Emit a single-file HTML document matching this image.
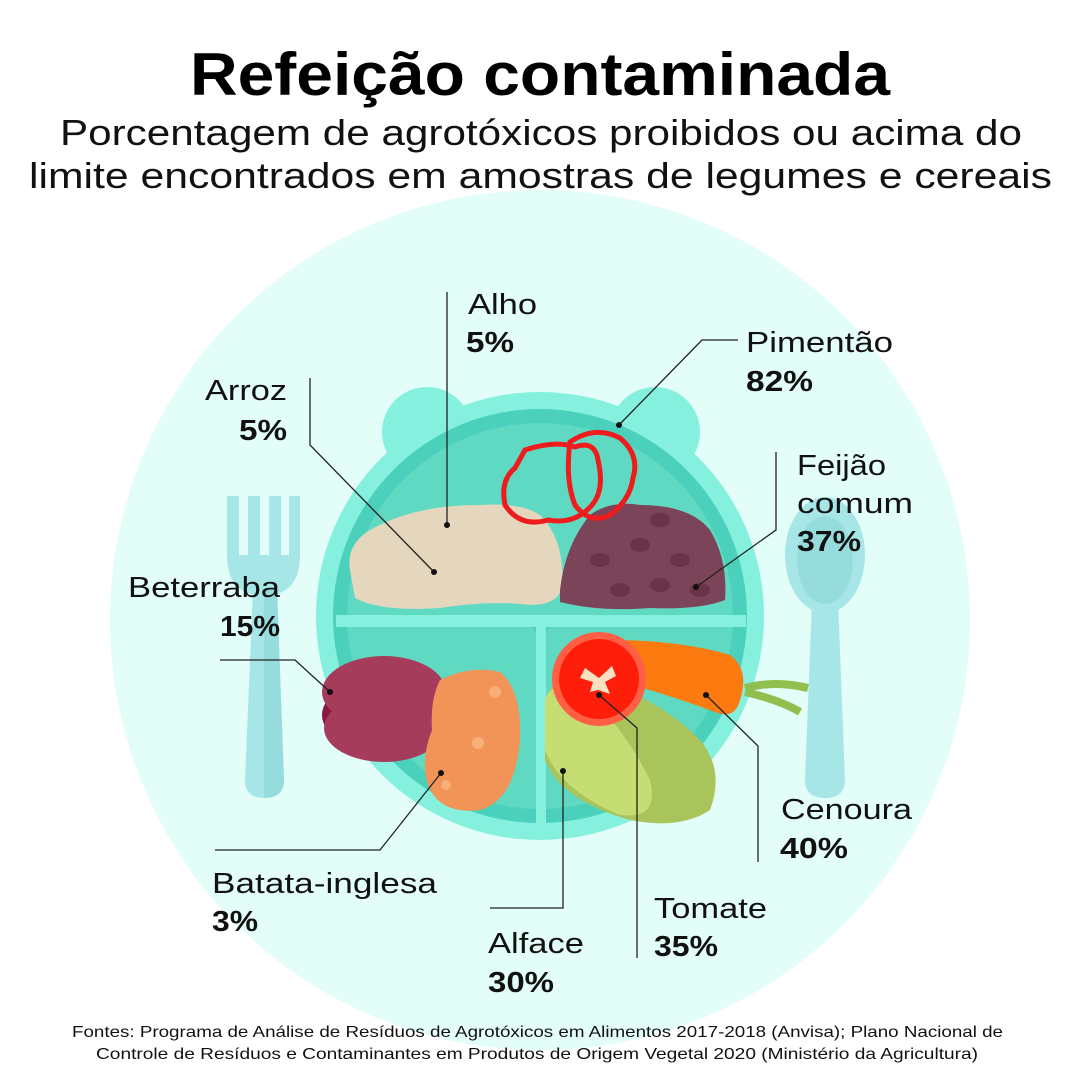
<!DOCTYPE html>
<html><head><meta charset="utf-8"><style>
body{margin:0;background:#fff;}
svg{display:block;font-family:"Liberation Sans",sans-serif;}
.l{font-size:29px;fill:#111}
.b{font-size:29px;font-weight:bold;fill:#111}
</style></head><body>
<svg width="1080" height="1080" viewBox="0 0 1080 1080">
<rect width="1080" height="1080" fill="#fff"/>
<circle cx="540" cy="620" r="430" fill="#e3fdf8"/>
<text x="190" y="95" textLength="700" lengthAdjust="spacingAndGlyphs" font-size="60" font-weight="bold" fill="#000">Refeição contaminada</text>
<text x="60" y="145" textLength="962" lengthAdjust="spacingAndGlyphs" font-size="36" fill="#111">Porcentagem de agrotóxicos proibidos ou acima do</text>
<text x="29" y="188" textLength="1023" lengthAdjust="spacingAndGlyphs" font-size="36" fill="#111">limite encontrados em amostras de legumes e cereais</text>
<!-- fork -->
<g fill="#a7e6e7">
<rect x="227" y="496" width="12" height="65"/><rect x="248" y="496" width="12" height="65"/><rect x="269" y="496" width="12" height="65"/><rect x="289" y="496" width="11" height="65"/>
<path d="M227 555 H300 Q300 595 264 596 Q227 595 227 555Z"/>
<path d="M253 590 H277 L284 780 Q284 798 264 798 Q245 798 245 780Z"/>
</g>
<path d="M264 590 H277 L284 780 Q284 798 264 798Z" fill="#97dcdd"/>
<!-- spoon -->
<g fill="#a7e6e7">
<ellipse cx="825" cy="555" rx="40" ry="58"/>
<path d="M812 600 H838 L845 780 Q845 798 825 798 Q805 798 805 780Z"/>
</g>
<ellipse cx="825" cy="560" rx="28" ry="44" fill="#97dcdd"/>
<!-- plate -->
<circle cx="427" cy="432" r="45" fill="#86f0de"/><circle cx="655" cy="432" r="45" fill="#86f0de"/>
<circle cx="540" cy="616" r="224" fill="#86f0de"/>
<circle cx="540" cy="616" r="207" fill="#4bd0bb"/>
<clipPath id="pc"><circle cx="540" cy="616" r="193"/></clipPath>
<g clip-path="url(#pc)" fill="#60d9c3">
<rect x="330" y="400" width="420" height="215" rx="8"/>
<rect x="330" y="627" width="206" height="220" rx="8"/>
<rect x="546" y="627" width="210" height="220" rx="8"/>
</g>
<rect x="336" y="615" width="410" height="12" fill="#86f0de"/>
<rect x="536" y="620" width="10" height="205" fill="#86f0de"/>
<!-- rice -->
<path d="M350 570 Q345 540 380 525 Q420 505 480 505 Q520 502 540 515 Q565 540 562 585 Q560 605 530 605 Q490 600 440 608 Q380 612 355 598Z" fill="#e5d7bd"/>
<!-- beans -->
<path d="M560 590 Q565 545 590 515 Q610 500 640 505 Q690 505 710 530 Q728 560 725 600 Q700 610 650 608 Q600 612 560 602Z" fill="#7b4459"/>
<g fill="#693448"><ellipse cx="600" cy="560" rx="10" ry="7"/><ellipse cx="640" cy="545" rx="10" ry="7"/><ellipse cx="680" cy="560" rx="10" ry="7"/><ellipse cx="620" cy="590" rx="10" ry="7"/><ellipse cx="660" cy="585" rx="10" ry="7"/><ellipse cx="700" cy="590" rx="10" ry="7"/><ellipse cx="660" cy="520" rx="10" ry="7"/></g>
<!-- pepper -->
<g fill="none" stroke="#ee1c1c" stroke-width="5">
<path d="M525 450 Q555 440 575 447 Q595 440 598 460 Q605 490 592 505 Q575 525 548 520 Q520 528 505 505 Q500 480 515 468Z"/>
<path d="M570 442 Q595 425 620 438 Q640 455 633 478 Q630 500 610 515 Q590 525 575 505 Q565 480 570 442Z"/>
</g>
<!-- beet -->
<ellipse cx="380" cy="715" rx="58" ry="35" fill="#8a1846"/>
<ellipse cx="384" cy="692" rx="62" ry="36" fill="#a63c5c"/>
<ellipse cx="384" cy="728" rx="60" ry="34" fill="#a63c5c"/>
<!-- potato -->
<path d="M440 680 Q470 665 500 672 Q522 690 520 740 Q515 800 480 810 Q440 815 428 785 Q420 760 432 730 Q430 700 440 680Z" fill="#f29358"/>
<g fill="#f7b07a"><circle cx="495" cy="692" r="6"/><circle cx="478" cy="743" r="6"/><circle cx="446" cy="785" r="5"/></g>
<!-- lettuce -->
<path d="M545 700 Q560 660 600 680 Q660 700 700 740 Q725 770 710 810 Q680 830 630 820 Q560 800 545 760Z" fill="#a9c45a"/>
<path d="M545 700 Q550 680 580 690 Q620 720 650 780 Q660 820 620 815 Q560 790 545 750Z" fill="#c6dd74"/>
<!-- carrot -->
<path d="M610 640 Q680 640 730 655 Q750 670 740 700 Q735 720 715 712 Q670 695 615 680Z" fill="#fb7b10"/>
<path d="M745 688 Q775 680 808 688 M745 692 Q780 700 800 712" stroke="#8fbf4e" stroke-width="8" fill="none"/>
<!-- tomato -->
<circle cx="599" cy="679" r="47" fill="#ff6045"/>
<circle cx="599" cy="679" r="40" fill="#ff1e0a"/>
<path d="M585 668 L599 678 L612 666 L616 676 L605 682 L610 694 L598 690 L590 692 L593 682 L580 678Z" fill="#fde0c0"/>
<!-- leader lines -->
<g stroke="#222" stroke-width="1.3" fill="none">
<path d="M447 292 V524"/>
<path d="M310 378 V445 L434 572"/>
<path d="M738 340 H702 L619 425"/>
<path d="M776 452 V530 L696 587"/>
<path d="M220 660 H295 L330 692"/>
<path d="M215 850 H380 L441 773"/>
<path d="M490 908 H563 V771"/>
<path d="M637 958 V728 L599 695"/>
<path d="M758 862 V746 L706 695"/>
</g>
<g fill="#111"><circle cx="447" cy="525" r="3"/><circle cx="434" cy="572" r="3"/><circle cx="619" cy="425" r="3"/><circle cx="696" cy="587" r="3"/><circle cx="330" cy="692" r="3"/><circle cx="441" cy="773" r="3"/><circle cx="563" cy="771" r="3"/><circle cx="599" cy="695" r="3"/><circle cx="706" cy="695" r="3"/></g>
<!-- labels -->
<text class="l" lengthAdjust="spacingAndGlyphs" x="468" y="314" textLength="69">Alho</text><text class="b" lengthAdjust="spacingAndGlyphs" x="466" y="352" textLength="48">5%</text>
<text class="l" lengthAdjust="spacingAndGlyphs" x="205" y="400" textLength="82">Arroz</text><text class="b" lengthAdjust="spacingAndGlyphs" x="239" y="440" textLength="48">5%</text>
<text class="l" lengthAdjust="spacingAndGlyphs" x="746" y="352" textLength="147">Pimentão</text><text class="b" lengthAdjust="spacingAndGlyphs" x="746" y="391" textLength="67">82%</text>
<text class="l" lengthAdjust="spacingAndGlyphs" x="797" y="475" textLength="89">Feijão</text><text class="l" lengthAdjust="spacingAndGlyphs" x="797" y="513" textLength="116">comum</text><text class="b" lengthAdjust="spacingAndGlyphs" x="797" y="551" textLength="64">37%</text>
<text class="l" lengthAdjust="spacingAndGlyphs" x="128" y="597" textLength="152">Beterraba</text><text class="b" lengthAdjust="spacingAndGlyphs" x="220" y="636" textLength="60">15%</text>
<text class="l" lengthAdjust="spacingAndGlyphs" x="781" y="819" textLength="131">Cenoura</text><text class="b" lengthAdjust="spacingAndGlyphs" x="780" y="858" textLength="68">40%</text>
<text class="l" lengthAdjust="spacingAndGlyphs" x="212" y="893" textLength="225">Batata-inglesa</text><text class="b" lengthAdjust="spacingAndGlyphs" x="212" y="931" textLength="46">3%</text>
<text class="l" lengthAdjust="spacingAndGlyphs" x="654" y="918" textLength="113">Tomate</text><text class="b" lengthAdjust="spacingAndGlyphs" x="654" y="956" textLength="64">35%</text>
<text class="l" lengthAdjust="spacingAndGlyphs" x="488" y="953" textLength="96">Alface</text><text class="b" lengthAdjust="spacingAndGlyphs" x="488" y="992" textLength="66">30%</text>
<text x="72" y="1037" textLength="931" lengthAdjust="spacingAndGlyphs" font-size="16" fill="#111">Fontes: Programa de Análise de Resíduos de Agrotóxicos em Alimentos 2017-2018 (Anvisa); Plano Nacional de</text>
<text x="96" y="1059" textLength="882" lengthAdjust="spacingAndGlyphs" font-size="16" fill="#111">Controle de Resíduos e Contaminantes em Produtos de Origem Vegetal 2020 (Ministério da Agricultura)</text>
</svg>
</body></html>
